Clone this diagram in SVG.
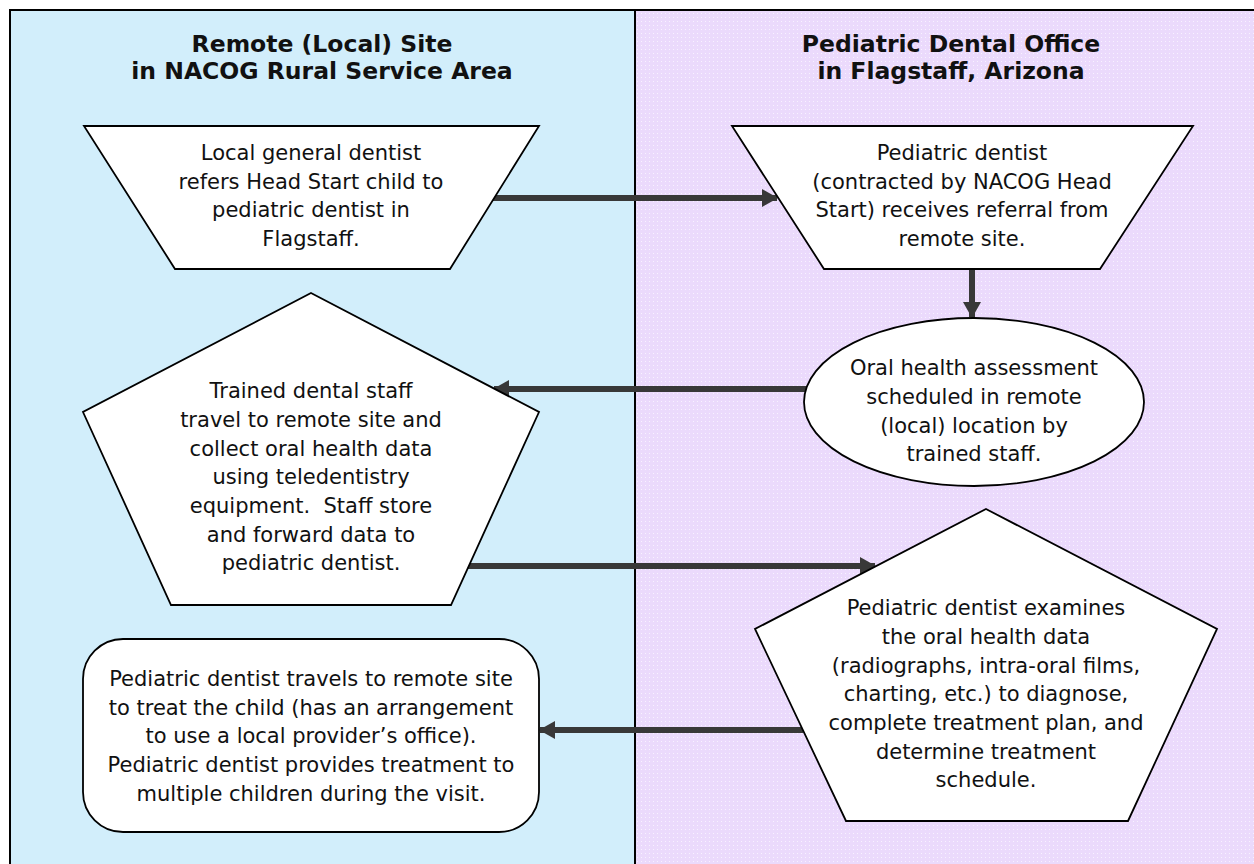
<svg xmlns="http://www.w3.org/2000/svg" width="1254" height="864" viewBox="0 0 1254 864">
<defs>
<pattern id="dots" width="4" height="4" patternUnits="userSpaceOnUse">
<rect width="4" height="4" fill="#EBDAFC"/>
<rect x="1" y="1" width="1" height="1" fill="#F8F2FF"/>
</pattern>
<marker id="ah" viewBox="0 0 16 18" refX="15" refY="9" markerWidth="16" markerHeight="18" markerUnits="userSpaceOnUse" orient="auto">
<path d="M0,0 L16,9 L0,18 Z" fill="#383838"/>
</marker>
</defs>
<style>
.shape{fill:#FFFFFF;stroke:#000000;stroke-width:1.8;stroke-linejoin:miter}
.t{font-family:"DejaVu Sans","Verdana",sans-serif;font-size:21px;fill:#111111;text-anchor:middle}
.h{font-family:"DejaVu Sans","Verdana",sans-serif;font-size:23.5px;font-weight:bold;fill:#111111;text-anchor:middle}
.c{stroke:#383838;stroke-width:6;fill:none;marker-end:url(#ah)}
</style>
<g id="lanes">
<rect x="10" y="10" width="625" height="870" fill="#D2EEFB" stroke="#000" stroke-width="2"/>
<rect x="635" y="10" width="630" height="870" fill="url(#dots)" stroke="#000" stroke-width="2"/>
<text class="h" x="322" y="52">Remote (Local) Site</text>
<text class="h" x="322" y="79">in NACOG Rural Service Area</text>
<text class="h" x="951" y="52">Pediatric Dental Office</text>
<text class="h" x="951" y="79">in Flagstaff, Arizona</text>
</g>
<g id="connectors">
<line class="c" x1="492" y1="198" x2="777" y2="198"/>
<line class="c" x1="972" y1="269" x2="972" y2="317"/>
<line class="c" x1="806" y1="389" x2="494" y2="389"/>
<line class="c" x1="468" y1="566" x2="875" y2="566"/>
<line class="c" x1="803" y1="730" x2="540" y2="730"/>
</g>
<g id="node1">
<polygon class="shape" points="84,126 539,126 450,269 175,269"/>
<text class="t" x="311" y="160">Local general dentist</text>
<text class="t" x="311" y="189">refers Head Start child to</text>
<text class="t" x="311" y="217">pediatric dentist in</text>
<text class="t" x="311" y="246">Flagstaff.</text>
</g>
<g id="node2">
<polygon class="shape" points="732,126 1193,126 1100,269 824,269"/>
<text class="t" x="962" y="160">Pediatric dentist</text>
<text class="t" x="962" y="189">(contracted by NACOG Head</text>
<text class="t" x="962" y="217">Start) receives referral from</text>
<text class="t" x="962" y="246">remote site.</text>
</g>
<g id="node3">
<ellipse class="shape" cx="974" cy="402" rx="170" ry="84"/>
<text class="t" x="974" y="375">Oral health assessment</text>
<text class="t" x="974" y="404">scheduled in remote</text>
<text class="t" x="974" y="433">(local) location by</text>
<text class="t" x="974" y="461">trained staff.</text>
</g>
<g id="node4">
<polygon class="shape" points="311,293 539,412 451,605 171,605 83,412"/>
<text class="t" x="311" y="398">Trained dental staff</text>
<text class="t" x="311" y="427">travel to remote site and</text>
<text class="t" x="311" y="456">collect oral health data</text>
<text class="t" x="311" y="484">using teledentistry</text>
<text class="t" x="311" y="513" xml:space="preserve">equipment.  Staff store</text>
<text class="t" x="311" y="542">and forward data to</text>
<text class="t" x="311" y="570">pediatric dentist.</text>
</g>
<g id="node5">
<polygon class="shape" points="986,509 1217,629 1128,821 846,821 755,629"/>
<text class="t" x="986" y="615">Pediatric dentist examines</text>
<text class="t" x="986" y="644">the oral health data</text>
<text class="t" x="986" y="673">(radiographs, intra-oral films,</text>
<text class="t" x="986" y="701">charting, etc.) to diagnose,</text>
<text class="t" x="986" y="730">complete treatment plan, and</text>
<text class="t" x="986" y="759">determine treatment</text>
<text class="t" x="986" y="787">schedule.</text>
</g>
<g id="node6">
<rect class="shape" x="83" y="639" width="456" height="193" rx="40" ry="40"/>
<text class="t" x="311" y="686">Pediatric dentist travels to remote site</text>
<text class="t" x="311" y="715">to treat the child (has an arrangement</text>
<text class="t" x="311" y="743">to use a local provider’s office).</text>
<text class="t" x="311" y="772">Pediatric dentist provides treatment to</text>
<text class="t" x="311" y="801">multiple children during the visit.</text>
</g>
</svg>
